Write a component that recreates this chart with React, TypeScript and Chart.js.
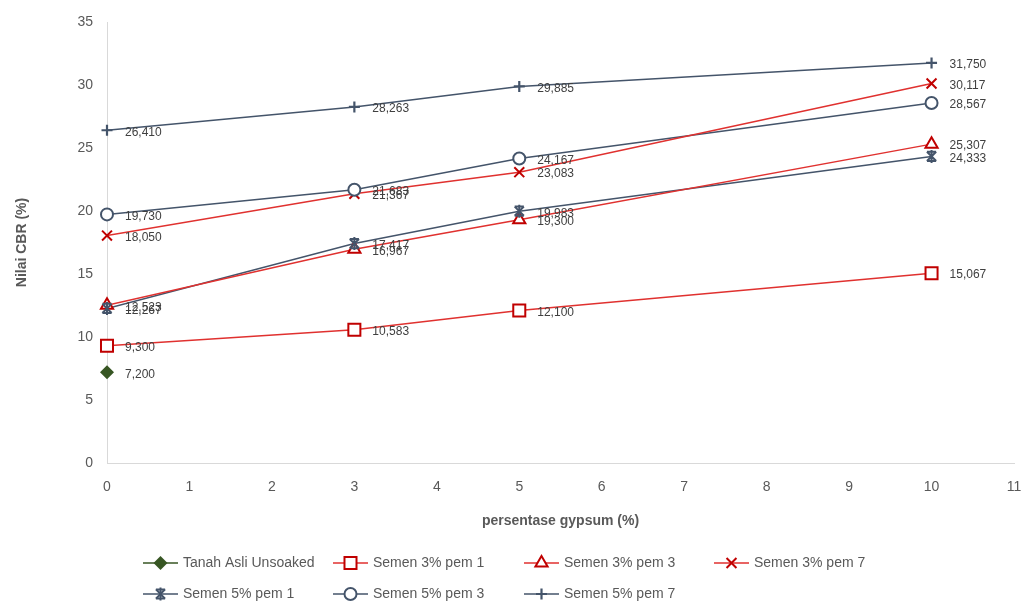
import React, { useEffect, useRef } from "react";
import { Chart, registerables } from "chart.js";

Chart.register(...registerables);

const gypsumX = [0, 3, 5, 10];
const tanahAsli = [7.2];
const semen3pem1 = [9.3, 10.583, 12.1, 15.067];
const semen3pem3 = [12.523, 16.967, 19.3, 25.307];
const semen3pem7 = [18.05, 21.367, 23.083, 30.117];
const semen5pem1 = [12.267, 17.417, 19.983, 24.333];
const semen5pem3 = [19.73, 21.683, 24.167, 28.567];
const semen5pem7 = [26.41, 28.263, 29.885, 31.75];

const seriesNames = [
  "Tanah Asli Unsoaked",
  "Semen 3% pem 1",
  "Semen 3% pem 3",
  "Semen 3% pem 7",
  "Semen 5% pem 1",
  "Semen 5% pem 3",
  "Semen 5% pem 7",
];

const RED = "#C00000";
const REDLINE = "#E0312F";
const NAVY = "#44546A";
const GREEN = "#375623";

const FONT = "'Liberation Sans', 'DejaVu Sans', sans-serif";

function drawMarker(ctx: CanvasRenderingContext2D, style: string, x: number, y: number, r: number, stroke: string, fill: string) {
  ctx.save();
  ctx.strokeStyle = stroke;
  ctx.fillStyle = fill;
  ctx.lineWidth = 2;
  ctx.beginPath();
  if (style === "rectRot") {
    ctx.moveTo(x, y - r);
    ctx.lineTo(x + r, y);
    ctx.lineTo(x, y + r);
    ctx.lineTo(x - r, y);
    ctx.closePath();
    ctx.fill();
  } else if (style === "rect") {
    const s = r * Math.SQRT1_2;
    ctx.rect(x - s, y - s, 2 * s, 2 * s);
    ctx.fill();
    ctx.stroke();
  } else if (style === "triangle") {
    ctx.moveTo(x, y - r);
    ctx.lineTo(x + r * 0.87, y + r * 0.5);
    ctx.lineTo(x - r * 0.87, y + r * 0.5);
    ctx.closePath();
    ctx.fill();
    ctx.stroke();
  } else if (style === "circle") {
    ctx.arc(x, y, r, 0, Math.PI * 2);
    ctx.fill();
    ctx.stroke();
  } else if (style === "crossRot") {
    const d = r * Math.SQRT1_2;
    ctx.moveTo(x - d, y - d);
    ctx.lineTo(x + d, y + d);
    ctx.moveTo(x - d, y + d);
    ctx.lineTo(x + d, y - d);
    ctx.stroke();
  } else if (style === "cross") {
    ctx.lineWidth = 2.2;
    ctx.moveTo(x - r, y);
    ctx.lineTo(x + r, y);
    ctx.moveTo(x, y - r);
    ctx.lineTo(x, y + r);
    ctx.stroke();
  } else if (style === "star") {
    const d = r * Math.SQRT1_2;
    ctx.moveTo(x - d, y - d);
    ctx.lineTo(x + d, y + d);
    ctx.moveTo(x - d, y + d);
    ctx.lineTo(x + d, y - d);
    ctx.moveTo(x, y - r);
    ctx.lineTo(x, y + r);
    ctx.moveTo(x - d, y - d);
    ctx.lineTo(x + d, y - d);
    ctx.moveTo(x - d, y + d);
    ctx.lineTo(x + d, y + d);
    ctx.stroke();
  }
  ctx.restore();
}

const styles = [
  { marker: "rectRot", r: 7, line: GREEN, stroke: GREEN, fill: GREEN },
  { marker: "rect", r: 8.5, line: REDLINE, stroke: RED, fill: "#FFFFFF" },
  { marker: "triangle", r: 7, line: REDLINE, stroke: RED, fill: "#FFFFFF" },
  { marker: "crossRot", r: 7, line: REDLINE, stroke: RED, fill: RED },
  { marker: "star", r: 6.5, line: NAVY, stroke: NAVY, fill: NAVY },
  { marker: "circle", r: 6, line: NAVY, stroke: NAVY, fill: "#FFFFFF" },
  { marker: "cross", r: 5.5, line: NAVY, stroke: NAVY, fill: NAVY },
];

const markerPlugin = {
  id: "customMarkersLabels",
  afterDatasetsDraw(chart: any) {
    const ctx: CanvasRenderingContext2D = chart.ctx;
    chart.data.datasets.forEach((ds: any, i: number) => {
      const meta = chart.getDatasetMeta(i);
      const st = styles[i];
      meta.data.forEach((pt: any, j: number) => {
        drawMarker(ctx, st.marker, pt.x, pt.y, st.r, st.stroke, st.fill);
        const v = ds.data[j].y as number;
        const txt = v.toFixed(3).replace(".", ",");
        ctx.save();
        ctx.font = `12px ${FONT}`;
        ctx.fillStyle = "#404040";
        ctx.textAlign = "left";
        ctx.textBaseline = "middle";
        ctx.fillText(txt, pt.x + 18, pt.y + 2);
        ctx.restore();
      });
    });
  },
  afterDraw(chart: any) {
    const ctx: CanvasRenderingContext2D = chart.ctx;
    const cols = [143, 333, 524, 714];
    const rows = [563, 594];
    seriesNames.forEach((name, i) => {
      const col = i < 4 ? i : i - 4;
      const row = i < 4 ? 0 : 1;
      const x = cols[col];
      const y = rows[row];
      const st = styles[i];
      ctx.save();
      ctx.strokeStyle = st.line;
      ctx.lineWidth = 1.5;
      ctx.beginPath();
      ctx.moveTo(x, y);
      ctx.lineTo(x + 35, y);
      ctx.stroke();
      ctx.restore();
      drawMarker(ctx, st.marker, x + 17.5, y, st.r, st.stroke, st.fill);
      ctx.save();
      ctx.font = `14px ${FONT}`;
      ctx.fillStyle = "#595959";
      ctx.textAlign = "left";
      ctx.textBaseline = "middle";
      ctx.fillText(name, x + 40, y);
      ctx.restore();
    });
  },
};

export default function App() {
  const ref = useRef<HTMLCanvasElement | null>(null);
  useEffect(() => {
    document.body.style.margin = "0";
    const allY = [tanahAsli, semen3pem1, semen3pem3, semen3pem7, semen5pem1, semen5pem3, semen5pem7];
    const datasets = allY.map((ys, i) => ({
      label: seriesNames[i],
      data: ys.map((y, j) => ({ x: gypsumX[j], y })),
      borderColor: styles[i].line,
      backgroundColor: styles[i].line,
      borderWidth: 1.5,
      pointRadius: 0,
      pointHoverRadius: 0,
      showLine: true,
      tension: 0,
    }));
    const chart = new Chart(ref.current as HTMLCanvasElement, {
      type: "scatter",
      data: { datasets },
      options: {
        animation: false,
        responsive: false,
        maintainAspectRatio: false,
        layout: { padding: { left: 0, right: 15, top: 22, bottom: 0 } },
        plugins: { legend: { display: false }, tooltip: { enabled: false } },
        scales: {
          x: {
            type: "linear",
            min: 0,
            max: 11,
            ticks: { stepSize: 1, color: "#595959", font: { size: 14, family: FONT }, padding: 16 },
            grid: { display: false, drawTicks: false },
            border: { display: true, color: "#D9D9D9", width: 1 },
            title: {
              display: true,
              text: "persentase gypsum (%)",
              color: "#595959",
              font: { size: 14, weight: "bold", family: FONT },
              padding: { top: 0, bottom: 73 },
            },
            afterFit: (s: any) => {
              s.height = 140;
              s.paddingLeft = 0;
              s.paddingRight = 0;
            },
          },
          y: {
            type: "linear",
            min: 0,
            max: 35,
            ticks: { stepSize: 5, color: "#595959", font: { size: 14, family: FONT }, padding: 14 },
            grid: { display: false, drawTicks: false },
            border: { display: true, color: "#D9D9D9", width: 1 },
            title: {
              display: true,
              text: "Nilai CBR (%)",
              color: "#595959",
              font: { size: 14, weight: "bold", family: FONT },
              padding: { top: 14, bottom: 0 },
            },
            afterFit: (s: any) => {
              s.width = 107;
              s.paddingTop = 0;
              s.paddingBottom = 0;
            },
          },
        },
      },
      plugins: [markerPlugin],
    } as any);
    return () => chart.destroy();
  }, []);
  return (
    <div style={{ width: 1029, height: 603 }}>
      <canvas ref={ref} width={1029} height={603} style={{ display: "block" }} />
    </div>
  );
}
